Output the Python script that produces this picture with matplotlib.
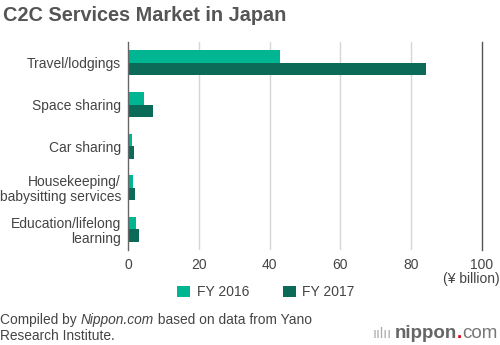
import matplotlib
matplotlib.use("Agg")
import matplotlib.pyplot as plt
import numpy as np

categories = ["Travel/lodgings", "Space sharing", "Car sharing",
              "Housekeeping/\nbabysitting services", "Education/lifelong\nlearning"]
fy2016 = [42.9, 4.5, 1.0, 1.4, 2.4]
fy2017 = [84.1, 7.0, 1.6, 2.1, 3.0]
xticks = [0, 20, 40, 60, 80, 100]
series_labels = ["FY 2016", "FY 2017"]

c16 = "#00B592"
c17 = "#0C6B58"
txt = "#444444"

plt.rcParams['font.family'] = ['Liberation Sans', 'DejaVu Sans']

fig = plt.figure(figsize=(5.0, 3.45), dpi=100)
ax = fig.add_axes([0.256, 0.275, 0.708, 0.603])

y = np.arange(len(categories))
h = 0.3
b1 = ax.barh(y - h/2, fy2016, height=h, color=c16, label=series_labels[0])
b2 = ax.barh(y + h/2, fy2017, height=h, color=c17, label=series_labels[1])

ax.set_xlim(0, 100)
ax.set_ylim(len(categories) - 0.5, -0.5)
ax.set_yticks(y)
ax.set_yticklabels(categories, fontsize=10, color=txt, ha='right', linespacing=1.1)
ax.set_xticks(xticks)
ax.set_xticklabels([str(t) for t in xticks], fontsize=10, color=txt)
ax.tick_params(axis='y', length=0, pad=5)
ax.tick_params(axis='x', length=0, pad=6)

for s in ['top', 'bottom']:
    ax.spines[s].set_visible(False)
ax.spines['left'].set_color('#666666')
ax.spines['left'].set_linewidth(1.0)
ax.spines['right'].set_color('#555555')
ax.spines['right'].set_linewidth(1.0)
ax.set_axisbelow(True)
for t in xticks[1:-1]:
    ax.axvline(t, color='#d6d6d6', linewidth=1.0, zorder=0)

fig.text(0.006, 0.955, "C2C Services Market in Japan", fontsize=14.3, fontweight='bold',
         color='#555555', ha='left', va='center')
fig.text(0.999, 0.19, "(¥ billion)", fontsize=10, color=txt, ha='right', va='center')

leg = fig.legend(handles=[b1, b2], labels=series_labels, loc='center',
                 bbox_to_anchor=(0.532, 0.153), ncol=2, frameon=False, fontsize=10,
                 handlelength=0.9, handleheight=0.9, columnspacing=2.45, handletextpad=0.5)
for t in leg.get_texts():
    t.set_color(txt)

r = fig.canvas.get_renderer()
fs = 9.9
t1 = fig.text(0.0, 0.072, "Compiled by ", fontsize=fs, color=txt, ha='left', va='center')
fig.text(0.0, 0.026, "Research Institute.", fontsize=fs, color=txt, ha='left', va='center')
bb = t1.get_window_extent(renderer=r)
x1 = bb.x1 / fig.bbox.width
t2 = fig.text(x1, 0.072, "Nippon.com", fontsize=fs, color=txt, ha='left', va='center', style='italic')
bb2 = t2.get_window_extent(renderer=r)
x2 = bb2.x1 / fig.bbox.width
fig.text(x2, 0.072, " based on data from Yano", fontsize=fs, color=txt, ha='left', va='center')

# logo
ly = 0.033
lt = fig.text(0.995, ly, "com", fontsize=13.5, color='#777777', ha='right', va='center')
bb3 = lt.get_window_extent(renderer=r)
xc = bb3.x0 / fig.bbox.width
dt = fig.text(xc, ly, ".", fontsize=13.5, color='#e60012', ha='right', va='center',
              fontweight='bold')
bb5 = dt.get_window_extent(renderer=r)
xd = bb5.x0 / fig.bbox.width
nt = fig.text(xd, ly, "nippon", fontsize=13.5, color='#666666', ha='right', va='center',
              fontweight='bold')
bb4 = nt.get_window_extent(renderer=r)
xn = bb4.x0 / fig.bbox.width
fig.text(xn - 0.006, ly, "ıılıı", fontsize=10, color='#aaaaaa', ha='right', va='center')

fig.savefig("out.png", dpi=100)
